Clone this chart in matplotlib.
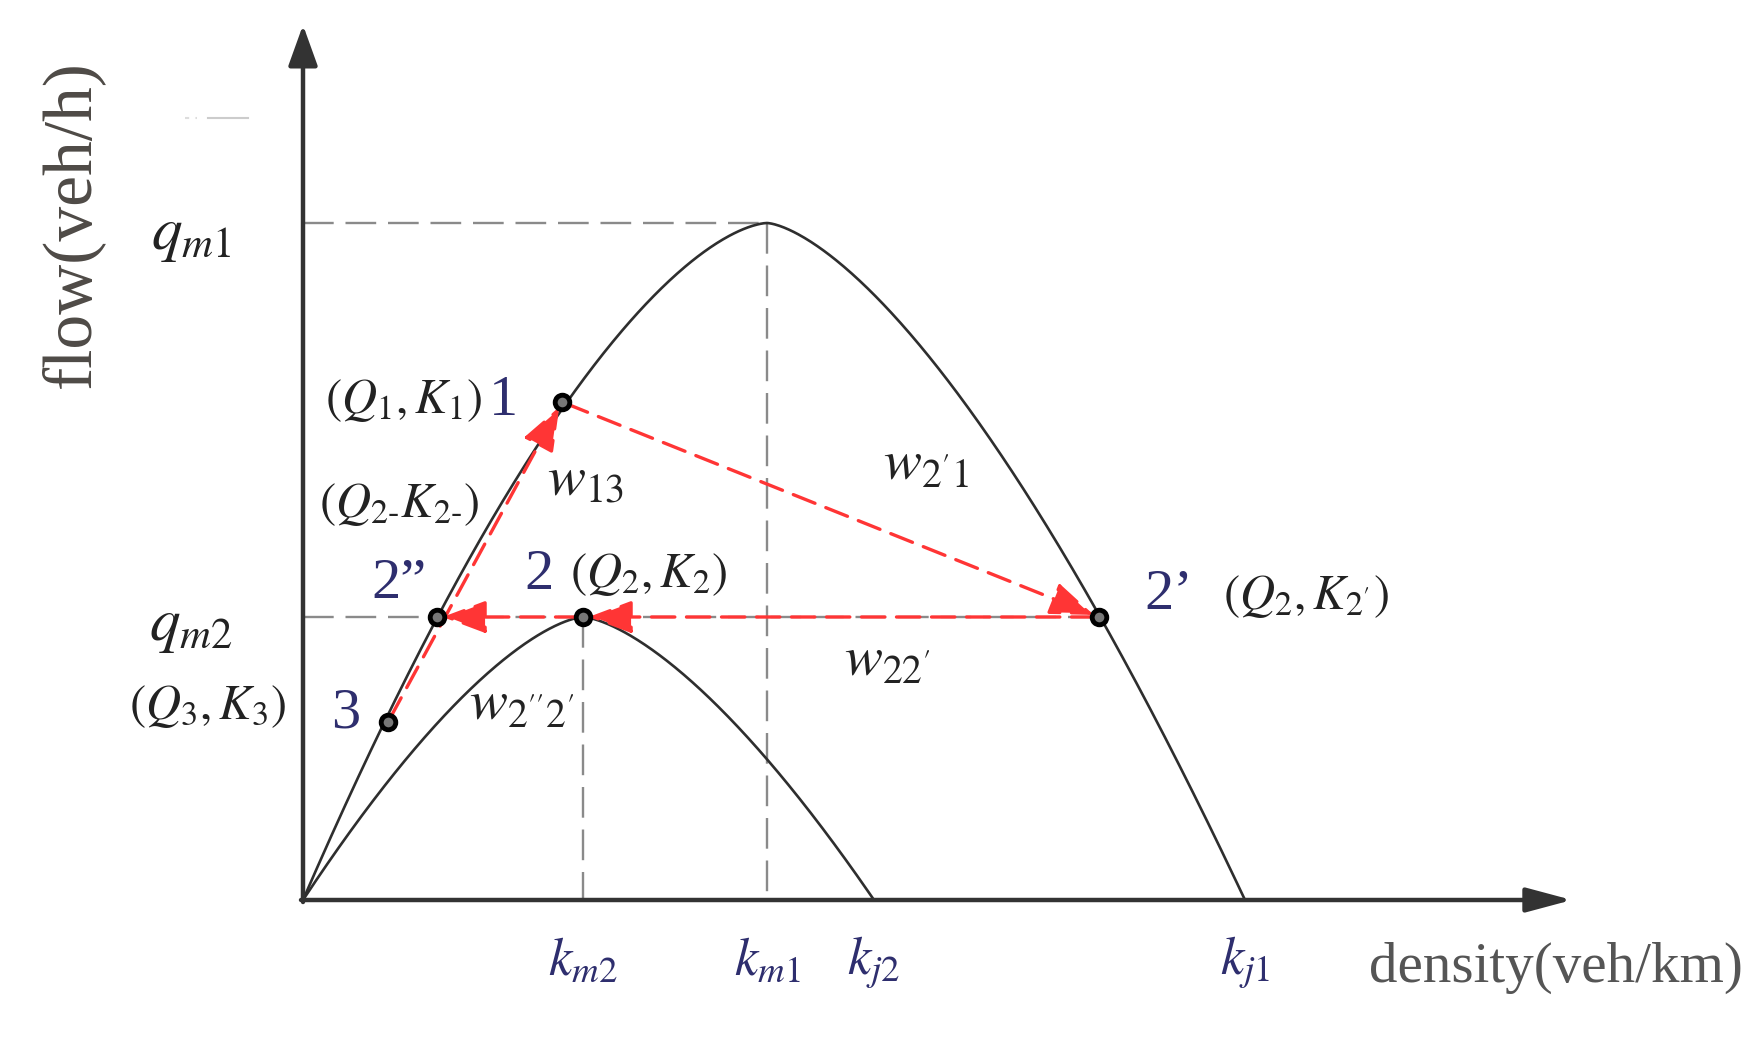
import numpy as np
import matplotlib.pyplot as plt

plt.rcParams['font.family'] = ['Liberation Serif', 'DejaVu Serif']
plt.rcParams['mathtext.fontset'] = 'stix'

# fundamental diagram parameters (drawing units)
k_m1, q_m1, k_j1 = 464, 677, 942
k_m2, q_m2, k_j2 = 280, 283, 571
shape_left, shape_right = 1.58, 1.5

# state points
pt_k = [259, 280, 796, 134, 85]
pt_q = [498, 283, 283, 283, 178]
pt_num = ['1', '2', '2\u2019', '2\u201d', '3']
pt_num_xy = [(200, 499), (236, 325), (866, 305), (96, 316), (43, 186)]
pt_lab = [r'$(Q_1,K_1)$', r'$(Q_2,K_2)$', r"$(Q_2,K_{2'})$", r'$(Q_{2\text{-}}K_{2\text{-}})$', r'$(Q_3,K_3)$']
pt_lab_xy = [(101, 499), (346, 325), (1003, 303), (96, 395), (-95, 193)]

# wave labels
w_lab = [r'$w_{13}$', r"$w_{2'1}$", r"$w_{22'}$", r"$w_{2''2'}$"]
w_xy = [(283, 419), (623, 434), (584, 237), (219, 193)]

# transitions: (from index, to index)
moves = [(0, 2), (2, 1), (1, 3), (4, 0)]

red = '#ff3535'
navy = '#2e2e6e'
gray = '#8a8a8a'


def curve(k, km, qm, kj, pl, pr):
    u = np.where(k < km, (k - km) / km, (k - km) / (kj - km))
    p = np.where(k < km, pl, pr)
    return qm * (1 - np.abs(u) ** p)


fig = plt.figure(figsize=(17.64, 10.44), dpi=100)
ax = fig.add_axes([0, 0, 1, 1])
ax.set_xlim(-303, 1461)
ax.set_ylim(-144, 900)
ax.axis('off')

k1 = np.linspace(0, k_j1, 600)
k2 = np.linspace(0, k_j2, 400)
ax.plot(k1, curve(k1, k_m1, q_m1, k_j1, shape_left, shape_right), color='#2e2e2e', lw=1.9, zorder=3)
ax.plot(k2, curve(k2, k_m2, q_m2, k_j2, 1.5, 1.5), color='#2e2e2e', lw=1.9, zorder=3)

# axes with arrows
ax.annotate('', xy=(0, 875), xytext=(0, -2),
            arrowprops=dict(arrowstyle='-|>,head_length=25,head_width=9', mutation_scale=1,
                            color='#333333', lw=3.2, shrinkA=0, shrinkB=0))
ax.annotate('', xy=(1269, 0), xytext=(-2, 0),
            arrowprops=dict(arrowstyle='-|>,head_length=28,head_width=7.5', mutation_scale=1,
                            color='#333333', lw=3.2, shrinkA=0, shrinkB=0))

# guide lines
dash = (0, (13, 5))
ax.plot([0, k_m1], [q_m1, q_m1], color=gray, lw=1.7, ls=dash, zorder=2)
ax.plot([k_m1, k_m1], [q_m1, 0], color=gray, lw=1.7, ls=dash, zorder=2)
ax.plot([0, pt_k[2]], [q_m2, q_m2], color=gray, lw=1.7, ls=dash, zorder=2)
ax.plot([k_m2, k_m2], [q_m2, 0], color=gray, lw=1.7, ls=dash, zorder=2)
ax.plot([-118, -106], [782, 782], color='#dddddd', lw=1.5, ls=(0, (2, 3)))
ax.plot([-95, -55], [782, 782], color='#cccccc', lw=1.5)

# red transitions
for a, b in moves:
    ax.annotate('', xy=(pt_k[b], pt_q[b]), xytext=(pt_k[a], pt_q[a]),
                arrowprops=dict(arrowstyle='-|>,head_length=0.8,head_width=0.3', mutation_scale=34,
                                color=red, lw=2.4, ls=(0, (7, 3.5)), shrinkA=3, shrinkB=4),
                zorder=4)

ax.plot(pt_k, pt_q, 'o', ms=10.5, mfc='#777777', mec='black', mew=3.5, zorder=5)

for s, (x, y) in zip(pt_num, pt_num_xy):
    ax.text(x, y, s, color=navy, fontsize=42, ha='center', va='center')
for s, (x, y) in zip(pt_lab, pt_lab_xy):
    ax.text(x, y, s, color='#222222', fontsize=35, ha='center', va='center')
for s, (x, y) in zip(w_lab, w_xy):
    ax.text(x, y, s, color='#222222', fontsize=41, ha='center', va='center')

# axis marks
ax.text(-112, 664, r'$q_{m1}$', fontsize=44, color='#222222', ha='center', va='center')
ax.text(-112, 273, r'$q_{m2}$', fontsize=44, color='#222222', ha='center', va='center')
k_marks = [k_m2, k_m1, k_j2, k_j1]
k_names = [r'$k_{m2}$', r'$k_{m1}$', r'$k_{j2}$', r'$k_{j1}$']
for x, s in zip(k_marks, k_names):
    ax.text(x, -62, s, fontsize=38, color=navy, ha='center', va='center')

ax.text(-231, 676, 'flow(veh/h)', fontsize=50, color='#4e4a46', rotation=90, ha='center', va='center')
ax.text(1253, -68, 'density(veh/km)', fontsize=41, color='#555555', ha='center', va='center')

fig.savefig('out.png', dpi=100, facecolor='white')
